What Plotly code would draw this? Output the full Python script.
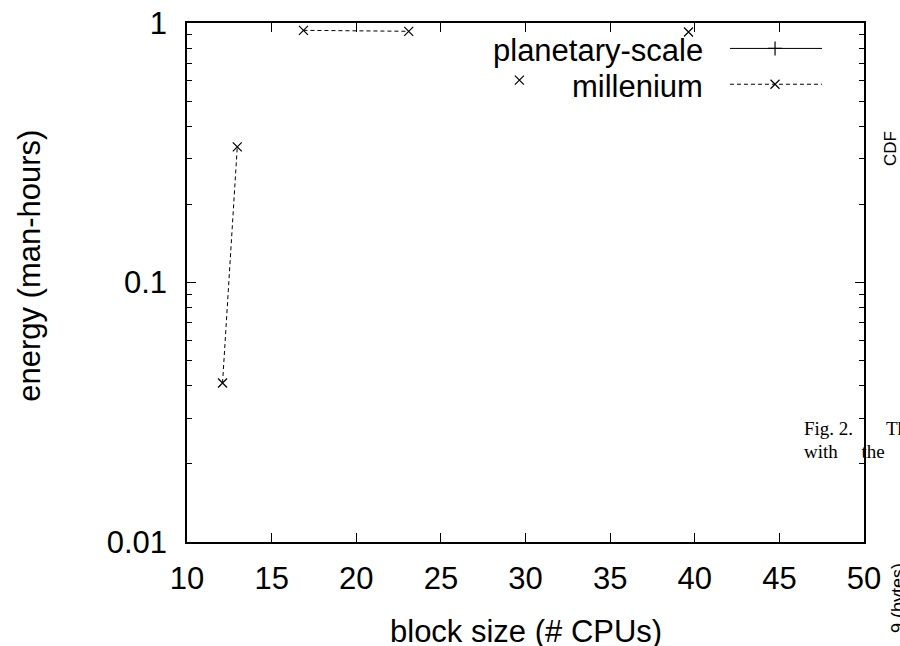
import plotly.graph_objects as go

# data (millenium series; None breaks the line)
mill_x = [12.1, 12.97, None, 16.88, 23.1, None, 29.64, None, 39.63]
mill_y = [0.041, 0.333, None, 0.937, 0.929, None, 0.602, None, 0.923]
plan_x = []
plan_y = []
series_names = ["planetary-scale", "millenium"]

x_ticks = [10, 15, 20, 25, 30, 35, 40, 45, 50]
y_ticks = [0.01, 0.1, 1]
y_tick_text = ["0.01", "0.1", "1"]
y_minor = [0.02, 0.03, 0.04, 0.05, 0.06, 0.07, 0.08, 0.09,
           0.2, 0.3, 0.4, 0.5, 0.6, 0.7, 0.8, 0.9]

FONT = "Liberation Sans, Arial, sans-serif"
SERIF = "Liberation Serif, Times New Roman, serif"
FS = 31

fig = go.Figure()
fig.add_trace(go.Scatter(x=plan_x, y=plan_y, mode="lines+markers", name=series_names[0],
                         line=dict(color="black", width=1),
                         marker=dict(symbol="cross-thin", size=10, line=dict(width=1, color="black")),
                         showlegend=False))
fig.add_trace(go.Scatter(x=mill_x, y=mill_y, mode="lines+markers", name=series_names[1],
                         line=dict(color="black", width=1, dash="4px,3px"),
                         marker=dict(symbol="x-thin", size=9, line=dict(width=1.2, color="black")),
                         connectgaps=False, showlegend=False))

# legend samples (gnuplot-style key: text then sample)
key_rows = [0.951, 0.882]
key_x0, key_x1, key_xm = 0.802, 0.938, 0.8686
key_sym = ["cross-thin", "x-thin"]
key_dash = ["solid", "4px,3px"]
for i, nm in enumerate(series_names):
    fig.add_shape(type="line", xref="paper", yref="paper", x0=key_x0, x1=key_x1,
                  y0=key_rows[i], y1=key_rows[i],
                  line=dict(color="black", width=1, dash=key_dash[i]))
    fig.add_trace(go.Scatter(x=[key_xm], y=[key_rows[i]], xaxis="x2", yaxis="y2",
                             mode="markers", showlegend=False, hoverinfo="skip",
                             marker=dict(symbol=key_sym[i], size=9 if i else 10,
                                         line=dict(width=1.2, color="black"))))
    fig.add_annotation(text=nm, xref="paper", yref="paper", x=0.7652, y=key_rows[i] - 0.004,
                       xanchor="right", yanchor="middle", showarrow=False,
                       font=dict(family=FONT, size=FS, color="black"))

axis_common = dict(showgrid=False, zeroline=False, showline=True, linecolor="black",
                   linewidth=1.5, mirror="ticks", ticks="inside", tickcolor="black",
                   tickwidth=1, automargin=False, ticklabeloverflow="allow",
                   tickfont=dict(family=FONT, size=FS, color="black"))

fig.update_layout(
    width=900, height=646,
    margin=dict(l=187, r=36, t=23, b=104, autoexpand=False),
    paper_bgcolor="white", plot_bgcolor="white",
    showlegend=False,
    xaxis=dict(range=[10, 50], tickvals=x_ticks, ticklen=9, ticklabelstandoff=8,
               **axis_common),
    yaxis=dict(type="log", range=[-2, 0], tickvals=y_ticks, ticktext=y_tick_text,
               ticklen=9, ticklabelstandoff=12,
               minor=dict(tickvals=y_minor, ticks="inside", ticklen=5, tickcolor="black", showgrid=False),
               **axis_common),
    xaxis2=dict(range=[0, 1], overlaying="x", visible=False, domain=[0, 1]),
    yaxis2=dict(range=[0, 1], overlaying="y", visible=False),
)

# axis titles
fig.add_annotation(text="block size (# CPUs)", xref="paper", yref="paper", x=0.5, y=-0.172,
                   xanchor="center", yanchor="middle", showarrow=False,
                   font=dict(family=FONT, size=FS, color="black"))
fig.add_annotation(text="energy (man-hours)", xref="paper", yref="paper", x=-0.232, y=0.532,
                   xanchor="center", yanchor="middle", showarrow=False, textangle=-90,
                   font=dict(family=FONT, size=FS, color="black"))

# stray text from the surrounding page
fig.add_annotation(text="CDF", xref="paper", yref="paper", x=1.0, xshift=26, y=0.757,
                   textangle=-90, showarrow=False, xanchor="center", yanchor="middle",
                   font=dict(family=FONT, size=17, color="black"))
fig.add_annotation(text="Fig. 2.       The", xref="paper", yref="paper", x=0.908, y=0.218,
                   xanchor="left", yanchor="middle", showarrow=False,
                   font=dict(family=SERIF, size=19, color="black"))
fig.add_annotation(text="with     the     other", xref="paper", yref="paper", x=0.908, y=0.174,
                   xanchor="left", yanchor="middle", showarrow=False,
                   font=dict(family=SERIF, size=19, color="black"))
fig.add_annotation(text="9 (bytes)", xref="paper", yref="paper", x=1.0, xshift=34, y=-0.108,
                   textangle=-90, showarrow=False, xanchor="center", yanchor="middle",
                   font=dict(family=FONT, size=18, color="black"))

fig.write_html("out.html", config={"displayModeBar": False},
               post_script="document.body.style.margin='0px';")
